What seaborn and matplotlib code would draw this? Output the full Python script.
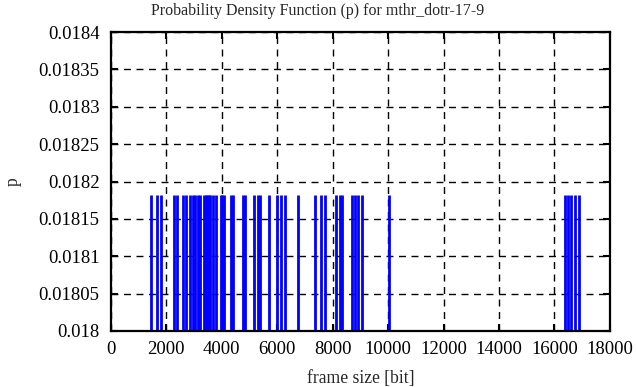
import numpy as np
import matplotlib
matplotlib.use('Agg')
import matplotlib.pyplot as plt
import seaborn as sns
import pandas as pd

# frame sizes (bit) observed in the trace, each with the same probability
frame_sizes = [1460, 1680, 1810,
               2290, 2390, 2620, 2730, 2850, 2960, 3030, 3150, 3220,
               3380, 3430, 3480, 3530, 3580, 3680, 3810, 3960, 4020, 4100,
               4340, 4410, 4770, 4840, 5170, 5320, 5390, 5710,
               6010, 6150, 6290, 6750, 7350, 7570, 7740,
               8130, 8280, 8330, 8700, 8800, 8900, 9070, 10050,
               16390, 16500, 16600, 16740, 16870]
prob = [1 / 55.0] * len(frame_sizes)

x_ticks = list(range(0, 18001, 2000))
y_ticks = [0.018, 0.01805, 0.0181, 0.01815, 0.0182, 0.01825, 0.0183, 0.01835, 0.0184]
y_tick_labels = ['0.018', '0.01805', '0.0181', '0.01815', '0.0182',
                 '0.01825', '0.0183', '0.01835', '0.0184']

title = 'Probability Density Function (p) for mthr_dotr-17-9'


def main():
    df = pd.DataFrame({'size': frame_sizes, 'p': prob})

    sns.set_style('ticks')
    plt.rcParams['font.family'] = ['Liberation Serif', 'DejaVu Serif']
    plt.rcParams['font.size'] = 12

    fig = plt.figure(figsize=(6.36, 3.87), dpi=100)
    ax = fig.add_axes([0.174, 0.145, 0.785, 0.772])

    # impulses
    ax.vlines(df['size'], 0, df['p'], colors='#0000ff', linewidth=2.0)

    ax.set_xlim(0, 18000)
    ax.set_ylim(0.018, 0.0184)
    ax.set_xticks(x_ticks)
    ax.set_xticklabels([str(t) for t in x_ticks])
    ax.set_yticks(y_ticks)
    ax.set_yticklabels(y_tick_labels)

    ax.grid(True, color='black', linestyle=(0, (5, 4)), linewidth=1.0)
    ax.set_axisbelow(True)
    for spine in ax.spines.values():
        spine.set_visible(True)
        spine.set_linewidth(1.6)
        spine.set_color('black')
    ax.tick_params(direction='in', length=5, width=1.5, top=True, right=True,
                   labelsize=13.5, colors='black', pad=8)
    ax.tick_params(axis='x', pad=7)

    ax.set_xlabel('frame size [bit]', fontsize=12.7)
    ax.set_ylabel('p', fontsize=12.7)
    ax.yaxis.set_label_coords(-0.178, 0.5)
    ax.xaxis.set_label_coords(0.5, -0.13)
    fig.text(0.5, 0.972, title, ha='center', va='center', fontsize=11.5)

    fig.savefig('out.png', dpi=100)
    plt.close(fig)


if __name__ == '__main__':
    main()
